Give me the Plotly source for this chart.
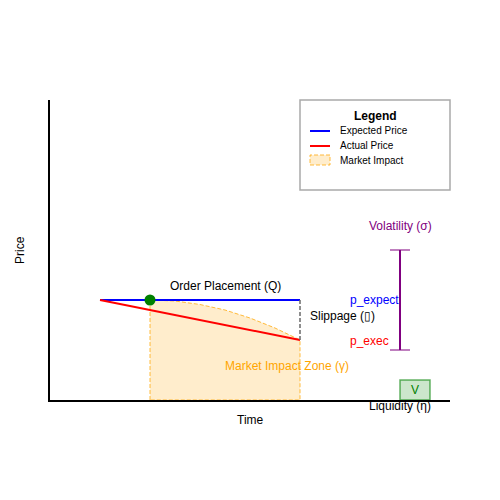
import plotly.graph_objects as go

# price path data (time units, price units)
expected_x = [1, 5]
expected_y = [2.0, 2.0]
actual_x = [1, 5]
actual_y = [2.0, 1.2]
impact_x = [2, 2.5, 3, 3.5, 4, 4.5, 5]
impact_y = [2.0, 1.98, 1.91, 1.8, 1.64, 1.44, 1.2]
order_x = [2]
order_y = [2.0]
vol_x = [7]
vol_low, vol_high = 1.0, 3.0
liq_x = [7.0, 7.6]
liq_y = [0.0, 0.4]
legend_labels = ["Expected Price", "Actual Price", "Market Impact"]

FONT = "Liberation Sans"
ORANGE_EDGE = "rgba(255,165,0,0.75)"
ORANGE_FILL = "rgba(255,165,0,0.2)"

fig = go.Figure()

# market impact zone: down the left edge, along the curve, back along the bottom
zone_x = [impact_x[0]] + impact_x + [impact_x[-1], impact_x[0]]
zone_y = [0] + impact_y + [0, 0]
fig.add_trace(go.Scatter(
    x=zone_x, y=zone_y, mode="lines", fill="toself", fillcolor=ORANGE_FILL,
    line=dict(color=ORANGE_EDGE, width=1, dash="4px,2px"),
))
fig.add_trace(go.Scatter(x=expected_x, y=expected_y, mode="lines",
                         line=dict(color="blue", width=2)))
fig.add_trace(go.Scatter(x=actual_x, y=actual_y, mode="lines",
                         line=dict(color="red", width=2)))
# slippage gap
fig.add_trace(go.Scatter(
    x=[expected_x[-1], actual_x[-1]], y=[expected_y[-1], actual_y[-1]], mode="lines",
    line=dict(color="dimgray", width=1.5, dash="4px,2px"),
))
fig.add_trace(go.Scatter(x=order_x, y=order_y, mode="markers",
                         marker=dict(color="green", size=11)))
# volatility bar
fig.add_trace(go.Scatter(x=[vol_x[0], vol_x[0]], y=[vol_low, vol_high], mode="lines",
                         line=dict(color="purple", width=2)))
for v in (vol_low, vol_high):
    fig.add_trace(go.Scatter(x=[vol_x[0] - 0.2, vol_x[0] + 0.2], y=[v, v], mode="lines",
                             line=dict(color="rgba(128,0,128,0.5)", width=2)))
# liquidity box
fig.add_shape(type="rect", x0=liq_x[0], x1=liq_x[1], y0=liq_y[0], y1=liq_y[1],
              fillcolor="rgba(0,128,0,0.2)", line=dict(color="rgba(0,128,0,0.6)", width=1.5))

anns = [
    dict(x=3.5, y=2.28, text="Order Placement (Q)", color="black", xanchor="center", ys=0),
    dict(x=5.2, y=1.68, text="Slippage (\u25af)", color="black", xanchor="left", ys=0),
    dict(x=3.5, y=0.68, text="Market Impact Zone (\u03b3)", color="orange", xanchor="left", ys=0),
    dict(x=6.0, y=2.0, text="p_expect", color="blue", xanchor="left", ys=0),
    dict(x=6.0, y=1.18, text="p_exec", color="red", xanchor="left", ys=0),
    dict(x=7.0, y=3.48, text="Volatility (\u03c3)", color="purple", xanchor="center", ys=0),
    dict(x=7.3, y=0.2, text="V", color="green", xanchor="center", ys=0),
    dict(x=7.0, y=0.0, text="Liquidity (\u03b7)", color="black", xanchor="center", ys=-6),
]
for a in anns:
    fig.add_annotation(x=a["x"], y=a["y"], text=a["text"], showarrow=False,
                       xanchor=a["xanchor"], yanchor="middle", yshift=a["ys"],
                       xshift=-2 if a["xanchor"] == "left" else 0,
                       font=dict(family=FONT, size=12, color=a["color"]))

# axis titles
fig.add_annotation(x=0.5, y=-0.067, xref="paper", yref="paper", text="Time",
                   showarrow=False, xanchor="center", yanchor="middle", font=dict(size=12))
fig.add_annotation(x=-0.075, y=0.5, xref="paper", yref="paper", text="Price",
                   showarrow=False, textangle=-90, xanchor="center", yanchor="middle",
                   font=dict(size=12))

# legend drawn by hand
fig.add_shape(type="rect", xref="paper", yref="paper", x0=0.625, x1=1.0, y0=0.70, y1=1.0,
              line=dict(color="darkgray", width=1.5), fillcolor="white", layer="below")
fig.add_annotation(x=0.8125, y=0.947, xref="paper", yref="paper", text="<b>Legend</b>",
                   showarrow=False, xanchor="center", yanchor="middle", font=dict(size=12))
fig.add_shape(type="line", xref="paper", yref="paper", x0=0.65, x1=0.70, y0=0.8967, y1=0.8967,
              line=dict(color="blue", width=2))
fig.add_shape(type="line", xref="paper", yref="paper", x0=0.65, x1=0.70, y0=0.8467, y1=0.8467,
              line=dict(color="red", width=2))
fig.add_shape(type="rect", xref="paper", yref="paper", x0=0.65, x1=0.70, y0=0.7833, y1=0.8167,
              fillcolor=ORANGE_FILL, line=dict(color=ORANGE_EDGE, width=1, dash="4px,2px"))
for lbl, yy in zip(legend_labels, [0.8967, 0.8467, 0.80]):
    fig.add_annotation(x=0.725, y=yy, xref="paper", yref="paper", text=lbl,
                       xanchor="left", yanchor="middle", xshift=-2, showarrow=False,
                       font=dict(size=10))

# page has an 8px body margin, so the plot area is nudged up/left to compensate
fig.update_layout(
    width=500, height=500,
    margin=dict(l=42, r=58, t=92, b=108),
    plot_bgcolor="white", paper_bgcolor="white",
    showlegend=False,
    font=dict(family=FONT, size=12, color="black"),
    xaxis=dict(range=[0, 8], showgrid=False, zeroline=False, showticklabels=False,
               ticks="", showline=True, linecolor="black", linewidth=2, automargin=False),
    yaxis=dict(range=[0, 6], showgrid=False, zeroline=False, showticklabels=False,
               ticks="", showline=True, linecolor="black", linewidth=2, automargin=False),
)

fig.write_html("out.html")
